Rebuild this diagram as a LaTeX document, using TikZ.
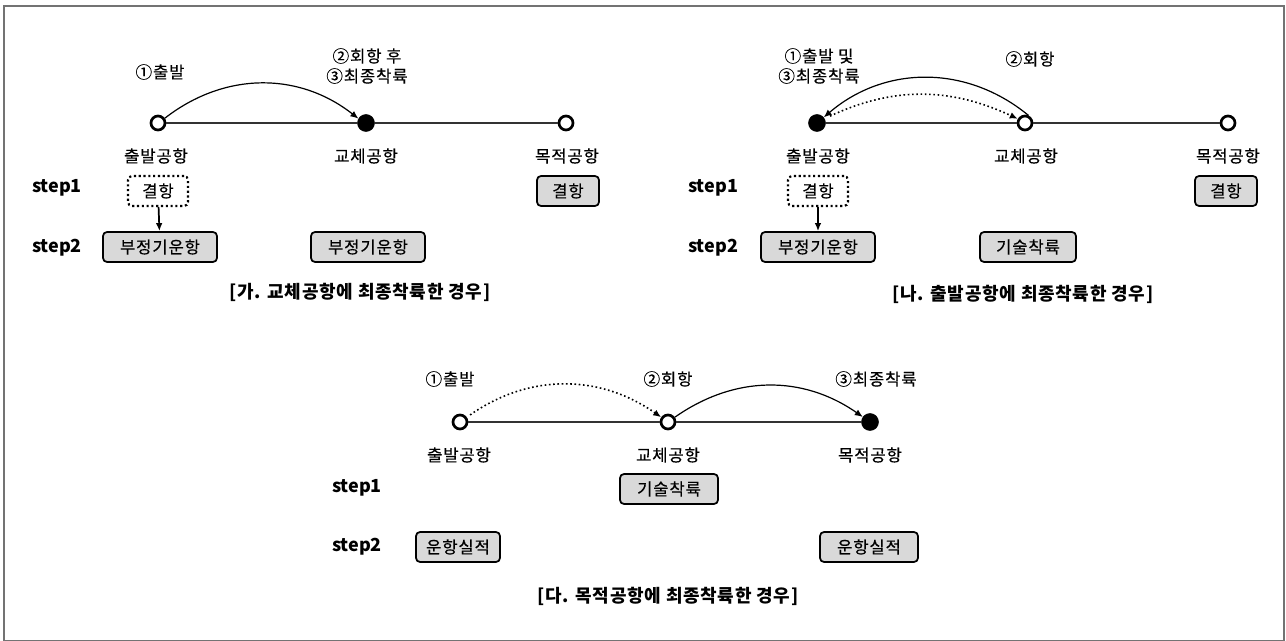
\documentclass[tikz,border=0pt]{standalone}
\usepackage{fontspec}
\setmainfont{Noto Sans CJK KR}
\newfontfamily\lblf{Noto Sans CJK KR}[LetterSpace=5,FakeBold=0.4]
\newfontfamily\capf{Noto Sans CJK KR}[LetterSpace=4]
\usetikzlibrary{arrows.meta}
\tikzset{
  apt/.style={circle,draw=black,line width=2pt,fill=white,minimum size=10.5pt,inner sep=0pt},
  aptfill/.style={circle,draw=black,fill=black,minimum size=12.75pt,inner sep=0pt},
  route/.style={draw=black!80,line width=1.3pt},
  lbl/.style={font=\lblf\fontsize{12.5}{15}\selectfont,inner sep=1pt},
  steplbl/.style={font=\fontsize{13.5}{15}\selectfont\bfseries,inner sep=1pt},
  captxt/.style={font=\capf\fontsize{13.5}{15}\selectfont\bfseries,inner sep=1pt},
  gbox/.style={draw=black,line width=1.3pt,rounded corners=3pt,fill=black!15,font=\lblf\fontsize{12.5}{15}\selectfont,minimum height=22.5pt,inner sep=2pt},
  dbox/.style={draw=black,line width=1.6pt,dotted,rounded corners=3pt,fill=white,font=\lblf\fontsize{12.5}{15}\selectfont,minimum height=22.5pt,inner sep=2pt},
  arr/.style={-{Latex[length=6pt,width=5pt]},line width=0.9pt,black},
  darr/.style={-{Latex[length=6pt,width=5pt]},line width=1.2pt,black,dotted},
}
\begin{document}
\begin{tikzpicture}[x=0.75pt,y=-0.75pt]
\useasboundingbox (0,0) rectangle (1286,641);
\draw[black!55,line width=1.2pt] (4,6) rectangle (1284,641);

% ===== Panel A =====
\node[apt] (a1) at (158,123) {};
\node[aptfill] (a2) at (366,123) {};
\node[apt] (a3) at (566,123) {};
\draw[route] (a1) -- (a2);
\draw[route] (a2) -- (a3);
\draw[arr] (a1.35) to[bend left=38] (a2.150);
\node[lbl] (a1l) at (156,156) {출발공항};
\node[lbl] (a2l) at (366,156) {교체공항};
\node[lbl] (a3l) at (567,156) {목적공항};
\node[lbl] (a1t) at (160,72) {①출발};
\node[lbl,align=center] (a2t) at (367,66) {②회항 후\\③최종착륙};
\node[steplbl] (as1) at (57,188) {step1};
\node[steplbl] (as2) at (57,248) {step2};
\node[dbox,minimum width=45pt] (ab1) at (158,191) {결항};
\node[gbox,minimum width=46.5pt] (ab2) at (568,191) {결항};
\node[gbox,minimum width=85.5pt] (ab3) at (160,247) {부정기운항};
\node[gbox,minimum width=85.5pt] (ab4) at (368,247) {부정기운항};
\draw[arr,line width=1.3pt] (ab1) -- (ab3);
\node[captxt] (acap) at (360,292) {[가. 교체공항에 최종착륙한 경우]};

% ===== Panel B =====
\node[aptfill] (b1) at (817,123) {};
\node[apt] (b2) at (1025,123) {};
\node[apt] (b3) at (1228,123) {};
\draw[route] (b1) -- (b2);
\draw[route] (b2) -- (b3);
\draw[arr] (b2.65) to[bend right=40] (b1.40);
\draw[darr,shorten <=4.5pt] (b1.30) to[bend left=25] (b2.150);
\node[lbl] (b1l) at (818,156) {출발공항};
\node[lbl] (b2l) at (1026,156) {교체공항};
\node[lbl] (b3l) at (1228,156) {목적공항};
\node[lbl,align=center] (b1t) at (819,66) {①출발 및\\③최종착륙};
\node[lbl] (b2t) at (1030,59) {②회항};
\node[steplbl] (bs1) at (713,188) {step1};
\node[steplbl] (bs2) at (713,248) {step2};
\node[dbox,minimum width=45pt] (bb1) at (818,191) {결항};
\node[gbox,minimum width=46.5pt] (bb2) at (1226,191) {결항};
\node[gbox,minimum width=85.5pt] (bb3) at (818,247) {부정기운항};
\node[gbox,minimum width=72pt] (bb4) at (1028,247) {기술착륙};
\draw[arr,line width=1.3pt] (bb1) -- (bb3);
\node[captxt] (bcap) at (1023,294) {[나. 출발공항에 최종착륙한 경우]};

% ===== Panel C =====
\node[apt] (c1) at (460,422) {};
\node[apt] (c2) at (668,422) {};
\node[aptfill] (c3) at (870,422) {};
\draw[route] (c1) -- (c2);
\draw[route] (c2) -- (c3);
\draw[darr,shorten <=3pt] (c1.35) to[bend left=35] (c2.145);
\draw[arr] (c2.35) to[bend left=35] (c3.145);
\node[lbl] (c1l) at (459,455) {출발공항};
\node[lbl] (c2l) at (668,455) {교체공항};
\node[lbl] (c3l) at (870,455) {목적공항};
\node[lbl] (c1t) at (450,379) {①출발};
\node[lbl] (c2t) at (668,379) {②회항};
\node[lbl] (c3t) at (876,379) {③최종착륙};
\node[steplbl] (cs1) at (357,488) {step1};
\node[steplbl] (cs2) at (357,547) {step2};
\node[gbox,minimum width=73.5pt] (cb1) at (669,489) {기술착륙};
\node[gbox,minimum width=63pt] (cb2) at (458,547) {운항실적};
\node[gbox,minimum width=73.5pt] (cb3) at (869,547) {운항실적};
\node[captxt] (ccap) at (668,596) {[다. 목적공항에 최종착륙한 경우]};
\end{tikzpicture}
\end{document}
